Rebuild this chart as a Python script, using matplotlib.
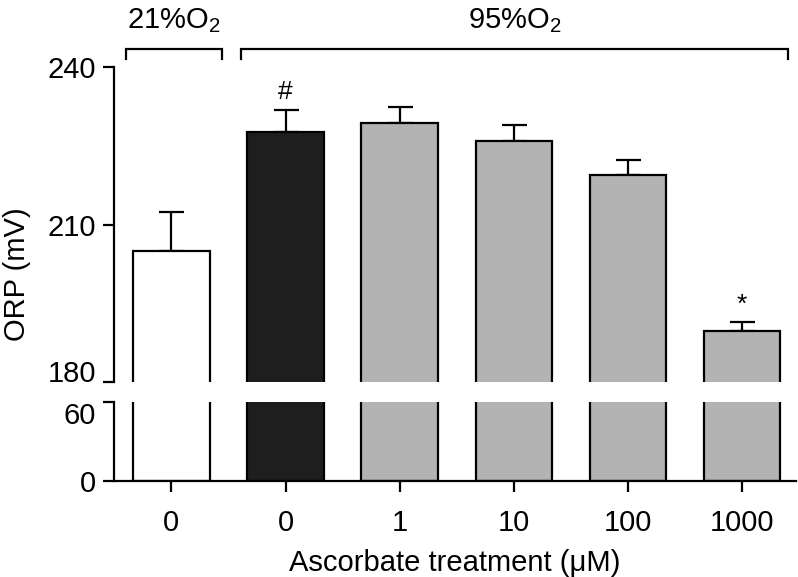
import numpy as np
import matplotlib.pyplot as plt

plt.rcParams['font.family'] = ['Liberation Sans', 'DejaVu Sans']
plt.rcParams['mathtext.fontset'] = 'custom'
plt.rcParams['mathtext.rm'] = 'Liberation Sans'
plt.rcParams['mathtext.it'] = 'Liberation Sans:italic'
plt.rcParams['font.size'] = 21

# Data
categories = ['0', '0', '1', '10', '100', '1000']
orp_mean = [205.0, 227.6, 229.4, 226.0, 219.5, 189.8]
orp_sem = [7.4, 4.3, 3.0, 2.9, 2.8, 1.6]
bar_colors = ['white', '#1e1e1e', '#b3b3b3', '#b3b3b3', '#b3b3b3', '#b3b3b3']
marks = {1: '#', 5: '*'}
groups = [('21%O$_2$', -0.40, 0.44), ('95%O$_2$', 0.61, 5.40)]

W, H = 798, 577
fig = plt.figure(figsize=(W / 100, H / 100), dpi=100)

left = 114 / W
right = 0.997
ax_top = fig.add_axes([left, (H - 382) / H, right - left, (382 - 67) / H])
ax_bot = fig.add_axes([left, (H - 481) / H, right - left, (481 - 402) / H])

x = np.arange(len(categories))
xlim = (-0.503, 5.47)
lw = 1.6

for ax in (ax_top, ax_bot):
    ax.bar(x, orp_mean, width=0.67, color=bar_colors, edgecolor='black',
           linewidth=lw, zorder=2)
    ax.set_xlim(*xlim)
    ax.spines['top'].set_visible(False)
    ax.spines['right'].set_visible(False)
    ax.spines['left'].set_linewidth(lw)
    ax.spines['bottom'].set_linewidth(lw)
    ax.tick_params(axis='both', direction='out', length=8, width=lw, pad=5)

ax_top.errorbar(x, orp_mean, yerr=[np.zeros(len(x)), orp_sem], fmt='none',
                ecolor='black', elinewidth=lw, capsize=9, capthick=lw, zorder=1)
ax_top.set_ylim(180, 240)
ax_top.set_yticks([180, 210, 240])
ax_top.spines['bottom'].set_visible(False)
ax_top.tick_params(axis='x', bottom=False, labelbottom=False)
ax_top.get_yticklabels()[0].set_va('baseline')

ax_bot.set_ylim(0, 60)
ax_bot.set_yticks([0, 60])
ax_bot.get_yticklabels()[1].set_va('top')
ax_bot.set_xticks(x)
ax_bot.set_xticklabels(categories)
ax_bot.tick_params(axis='x', pad=12)
ax_bot.set_xlabel('Ascorbate treatment (\u03bcM)', labelpad=9)

fig.text(17 / W, (H - 274) / H, 'ORP (mV)', rotation=90, ha='center', va='center')

# significance marks
for i, s in marks.items():
    ax_top.annotate(s, (x[i], orp_mean[i] + orp_sem[i]), xytext=(0, 4),
                    textcoords='offset points', ha='center', va='bottom',
                    fontsize=19, clip_on=False)

# group brackets
y_line, y_tip, y_txt = 243.5, 241.5, 247.4
for label, x0, x1 in groups:
    ax_top.plot([x0, x0, x1, x1], [y_tip, y_line, y_line, y_tip], color='black',
                lw=lw, clip_on=False, solid_joinstyle='miter')
    ax_top.text((x0 + x1) / 2, y_txt, label, ha='center', va='baseline')

fig.savefig('out.png', dpi=100)
